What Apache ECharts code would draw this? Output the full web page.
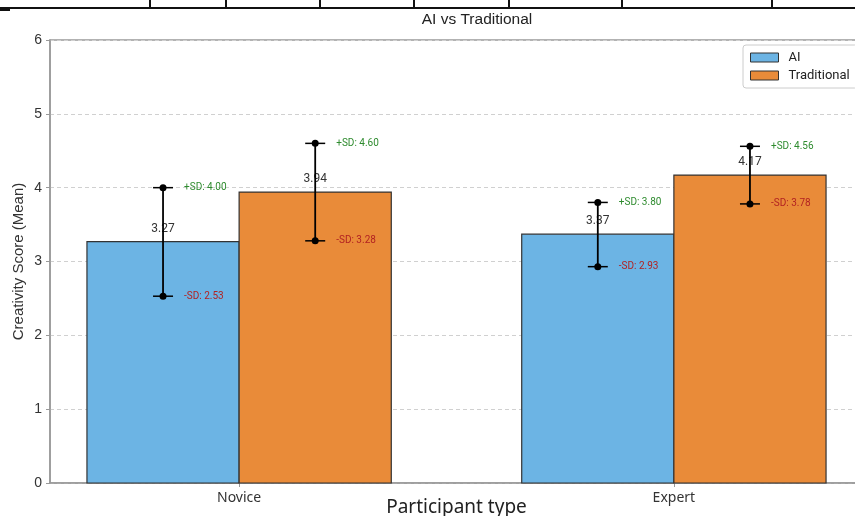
<!DOCTYPE html>
<html>
<head>
<meta charset="utf-8">
<script src="https://cdn.jsdelivr.net/npm/echarts@6/dist/echarts.min.js"></script>
<style>
html,body{margin:0;padding:0;background:#fff;}
#chart{width:855px;height:516px;}
</style>
</head>
<body>
<div id="chart"></div>
<script>
// ---- data ----
const categories = ['Novice', 'Expert'];
const seriesNames = ['AI', 'Traditional'];
const aiMeans = [3.27, 3.37];
const tradMeans = [3.94, 4.17];
const aiPlusSD = [4.00, 3.80];
const aiMinusSD = [2.53, 2.93];
const tradPlusSD = [4.60, 4.56];
const tradMinusSD = [3.28, 3.78];
const yTicks = [0, 1, 2, 3, 4, 5, 6];

// ---- styles ----
const AI_COLOR = '#6cb4e4';
const TRAD_COLOR = '#e98b39';
const EDGE = '#333333';
const BAR_W = 0.35;
const GREEN = '#2e8b2e';
const RED = '#b22222';

function barRender(offset, color) {
  return function (params, api) {
    const c = api.value(0), v = api.value(1);
    const p0 = api.coord([c + offset - BAR_W / 2, v]);
    const p1 = api.coord([c + offset + BAR_W / 2, 0]);
    return {
      type: 'group',
      children: [
        { type: 'rect', shape: { x: p0[0], y: p0[1], width: p1[0] - p0[0], height: p1[1] - p0[1] },
          style: { fill: color, stroke: EDGE, lineWidth: 1.2 } },
        { type: 'text', style: { text: v.toFixed(2), x: (p0[0] + p1[0]) / 2, y: p0[1] - 13,
          fill: '#333', font: '12px Roboto', align: 'center', verticalAlign: 'middle' } }
      ]
    };
  };
}

function errRender(offset) {
  return function (params, api) {
    const c = api.value(0), lo = api.value(1), hi = api.value(2);
    const pl = api.coord([c + offset, lo]);
    const ph = api.coord([c + offset, hi]);
    const x = pl[0];
    const cap = 10;
    return {
      type: 'group',
      children: [
        { type: 'line', shape: { x1: x, y1: pl[1], x2: x, y2: ph[1] }, style: { stroke: '#000', lineWidth: 1.8 } },
        { type: 'line', shape: { x1: x - cap, y1: pl[1], x2: x + cap, y2: pl[1] }, style: { stroke: '#000', lineWidth: 1.5 } },
        { type: 'line', shape: { x1: x - cap, y1: ph[1], x2: x + cap, y2: ph[1] }, style: { stroke: '#000', lineWidth: 1.5 } },
        { type: 'circle', shape: { cx: x, cy: pl[1], r: 3.5 }, style: { fill: '#000' } },
        { type: 'circle', shape: { cx: x, cy: ph[1], r: 3.5 }, style: { fill: '#000' } },
        { type: 'text', style: { text: '+SD: ' + hi.toFixed(2), x: x + 21, y: ph[1], fill: GREEN,
          font: '10px Roboto', align: 'left', verticalAlign: 'middle' } },
        { type: 'text', style: { text: '-SD: ' + lo.toFixed(2), x: x + 21, y: pl[1], fill: RED,
          font: '10px Roboto', align: 'left', verticalAlign: 'middle' } }
      ]
    };
  };
}

const chart = echarts.init(document.getElementById('chart'), null, { renderer: 'canvas' });

const option = {
  backgroundColor: '#fff',
  animation: false,
  title: {
    text: 'AI vs Traditional', left: 477, top: 12, textAlign: 'center', padding: 0,
    textStyle: { fontFamily: 'Liberation Sans', fontSize: 15.5, fontWeight: 'normal', color: '#222' }
  },
  legend: {
    orient: 'vertical', left: 743, top: 45, padding: [6, 8, 6, 7], itemGap: 5,
    itemWidth: 28, itemHeight: 9,
    backgroundColor: '#fff', borderColor: '#cccccc', borderWidth: 1, borderRadius: 3,
    textStyle: { fontFamily: 'Roboto', fontSize: 13, color: '#222', padding: [0, 0, 0, 5] },
    data: [
      { name: seriesNames[0], icon: 'rect', itemStyle: { color: AI_COLOR, borderColor: EDGE, borderWidth: 1 } },
      { name: seriesNames[1], icon: 'rect', itemStyle: { color: TRAD_COLOR, borderColor: EDGE, borderWidth: 1 } }
    ]
  },
  grid: {
    left: 50, top: 40, width: 813, bottom: 33, outerBoundsMode: 'none', containLabel: false,
    show: true, borderColor: '#999', borderWidth: 1.5, backgroundColor: 'transparent'
  },
  xAxis: {
    type: 'value', min: -0.435, max: 1.435,
    name: 'Participant type', nameLocation: 'middle', nameGap: 15, nameMoveOverlap: false,
    nameTextStyle: { fontFamily: 'Noto Sans', fontSize: 19, color: '#222' },
    axisLine: { show: true, onZero: false, lineStyle: { color: '#999', width: 1.5 } },
    axisTick: { show: true, length: 4, lineStyle: { color: '#999' }, customValues: [0, 1] },
    axisLabel: { customValues: [0, 1], formatter: v => categories[Math.round(v)] || '',
      fontFamily: 'Noto Sans', fontSize: 14, color: '#333', margin: 8 },
    splitLine: { show: false }
  },
  yAxis: {
    type: 'value', min: 0, max: 6, interval: 1,
    name: 'Creativity Score (Mean)', nameLocation: 'middle', nameGap: 24, nameMoveOverlap: false,
    nameTextStyle: { fontFamily: 'Liberation Sans', fontSize: 15, color: '#333' },
    axisLine: { show: true, onZero: false, lineStyle: { color: '#999', width: 1.5 } },
    axisTick: { show: true, length: 4, lineStyle: { color: '#999' } },
    axisLabel: { fontFamily: 'Liberation Sans', fontSize: 14, color: '#333', margin: 8,
      formatter: v => (yTicks.indexOf(v) >= 0 ? String(v) : '') },
    splitLine: { show: true, lineStyle: { color: '#d0d0d0', type: [4, 3], width: 1 } }
  },
  graphic: [
    { type: 'line', shape: { x1: 0, y1: 8, x2: 855, y2: 8 }, style: { stroke: '#111', lineWidth: 2 } },
    ...[150, 226, 320, 414, 509, 622, 772].map(x => ({
      type: 'line', shape: { x1: x, y1: 0, x2: x, y2: 8 }, style: { stroke: '#111', lineWidth: 2 }
    })),
    { type: 'line', shape: { x1: 0, y1: 10, x2: 10, y2: 10 }, style: { stroke: '#111', lineWidth: 2 } }
  ],
  series: [
    { name: seriesNames[0], type: 'custom', itemStyle: { color: AI_COLOR },
      renderItem: barRender(-BAR_W / 2, AI_COLOR),
      data: categories.map((c, i) => [i, aiMeans[i]]), z: 2 },
    { name: seriesNames[1], type: 'custom', itemStyle: { color: TRAD_COLOR },
      renderItem: barRender(BAR_W / 2, TRAD_COLOR),
      data: categories.map((c, i) => [i, tradMeans[i]]), z: 2 },
    { name: 'aiErr', type: 'custom', renderItem: errRender(-BAR_W / 2),
      data: categories.map((c, i) => [i, aiMinusSD[i], aiPlusSD[i]]), z: 3 },
    { name: 'tradErr', type: 'custom', renderItem: errRender(BAR_W / 2),
      data: categories.map((c, i) => [i, tradMinusSD[i], tradPlusSD[i]]), z: 3 }
  ]
};
chart.setOption(option);
</script>
</body>
</html>
